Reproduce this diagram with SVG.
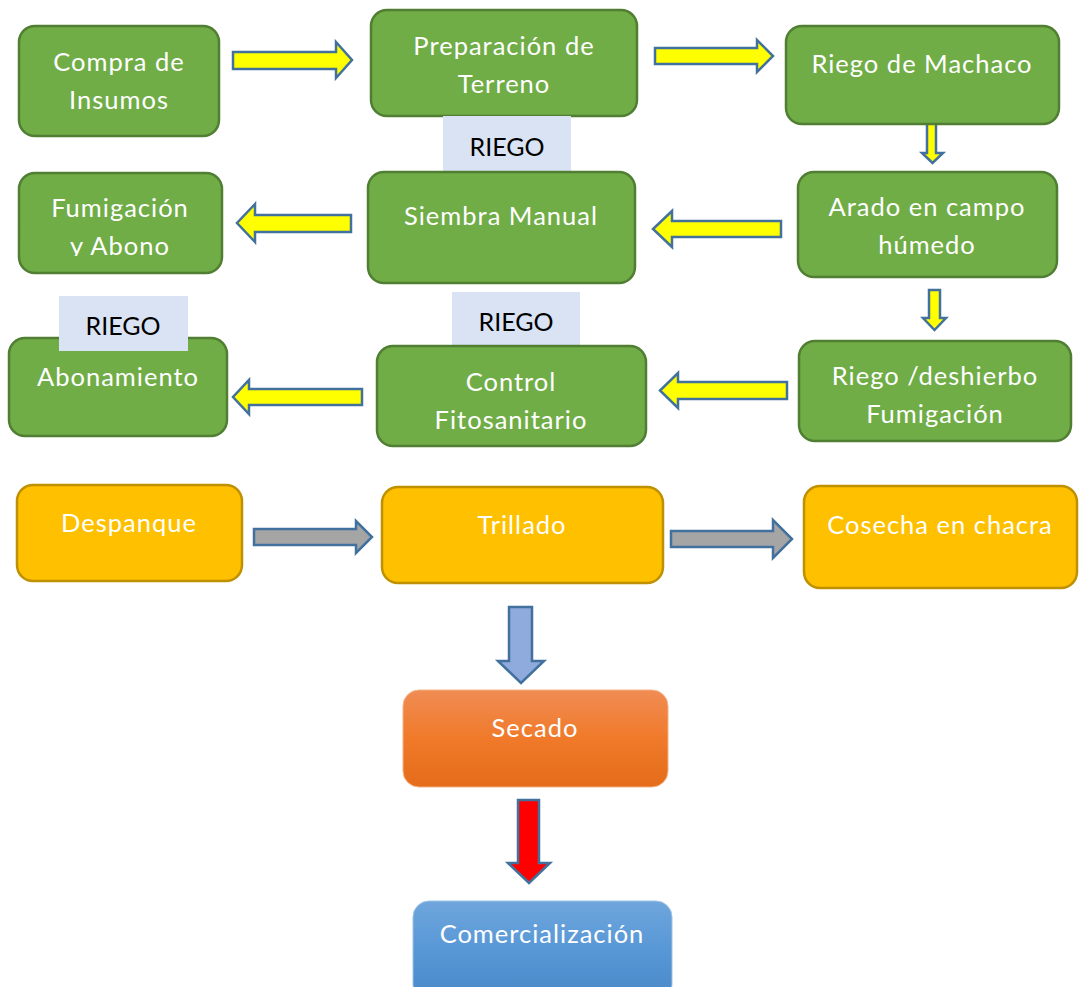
<svg xmlns="http://www.w3.org/2000/svg" width="1079" height="987" viewBox="0 0 1079 987">
<style>
.g{fill:#70AD47;stroke:#507E32;stroke-width:2.5}
.y{fill:#FFC000;stroke:#BF9000;stroke-width:2.5}
.lbl{fill:#DAE3F3}
.t{font-family:Lato,"Open Sans",sans-serif;font-size:25.5px;letter-spacing:1px;fill:#FFFFFF;text-anchor:middle}
.k{font-family:Lato,"Open Sans",sans-serif;font-size:25px;fill:#000000;text-anchor:middle}
.a{stroke:#41719C;stroke-width:2.5;stroke-linejoin:miter}
.ay{fill:#FFFF00}
.ag{fill:#A5A5A5}
</style>
<defs>
<linearGradient id="og" x1="0" y1="0" x2="0" y2="1"><stop offset="0" stop-color="#F08C54"/><stop offset="0.5" stop-color="#F07A2A"/><stop offset="1" stop-color="#E46C1A"/></linearGradient>
<linearGradient id="bg" x1="0" y1="0" x2="0" y2="1"><stop offset="0" stop-color="#6FA6DC"/><stop offset="0.5" stop-color="#5797D6"/><stop offset="1" stop-color="#4A88C8"/></linearGradient>
<clipPath id="fc"><rect x="19" y="173" width="204" height="83"/></clipPath>
</defs>
<g id="connectors">
<path class="a ay" d="M233,52 H336 V42 L352,60 L336,78 V69 H233 Z"/>
<path class="a ay" d="M655,48 H757 V40 L773,56 L757,72 V64 H655 Z"/>
<path class="a ay" d="M927,122 H936 V153 H943 L932.5,163 L922,153 H927 Z"/>
<path class="a ay" d="M781,221 H672 V211 L653,229 L672,247 V237 H781 Z"/>
<path class="a ay" d="M351,215 H255 V204 L237,223 L255,242 V232 H351 Z"/>
<path class="a ay" d="M929,290 H940 V318 H946 L934.5,330 L923,318 H929 Z"/>
<path class="a ay" d="M787,382 H678 V373 L660,390.5 L678,408 V399 H787 Z"/>
<path class="a ay" d="M362,389 H249 V380 L233,397 L249,414 V405 H362 Z"/>
<path class="a ag" d="M254,529 H356 V521 L372,537 L356,553 V545 H254 Z"/>
<path class="a ag" d="M671,531 H773 V520 L792,539 L773,558 V547 H671 Z"/>
<path class="a" fill="#8FAADC" d="M509,607 H532 V661 H544 L521,683 L498,661 H509 Z"/>
<path class="a" fill="#FF0000" d="M518,800 H539 V863 H550 L529,883 L508,863 H518 Z"/>
</g>
<g id="n-compra"><rect class="g" x="19" y="26" width="200" height="110" rx="16"/><text class="t" x="119" y="71">Compra de</text><text class="t" x="119" y="109">Insumos</text></g>
<g id="n-preparacion"><rect class="g" x="371" y="10" width="266" height="106" rx="16"/><text class="t" x="504" y="55">Preparación de</text><text class="t" x="504" y="93">Terreno</text></g>
<g id="n-machaco"><rect class="g" x="786" y="26" width="273" height="98" rx="16"/><text class="t" x="922" y="73">Riego de Machaco</text></g>
<g id="n-riego1"><rect class="lbl" x="443" y="116" width="128" height="55"/><text class="k" x="507" y="156">RIEGO</text></g>
<g id="n-arado"><rect class="g" x="798" y="172" width="259" height="105" rx="16"/><text class="t" x="927" y="216">Arado en campo</text><text class="t" x="927" y="254">húmedo</text></g>
<g id="n-siembra"><rect class="g" x="368" y="172" width="267" height="111" rx="16"/><text class="t" x="501" y="225">Siembra Manual</text></g>
<g id="n-fumigacion"><rect class="g" x="19" y="173" width="203" height="100" rx="16"/><g clip-path="url(#fc)"><text class="t" x="120" y="217">Fumigación</text><text class="t" x="120" y="255">y Abono</text></g></g>
<g id="n-riego2"><rect class="lbl" x="452" y="292" width="128" height="54"/><text class="k" x="516" y="331">RIEGO</text></g>
<g id="n-abonamiento"><rect class="g" x="9" y="338" width="218" height="98" rx="16"/><text class="t" x="118" y="386">Abonamiento</text></g>
<g id="n-riego3"><rect class="lbl" x="59" y="296" width="129" height="55"/><text class="k" x="123" y="335">RIEGO</text></g>
<g id="n-control"><rect class="g" x="377" y="346" width="269" height="100" rx="16"/><text class="t" x="511" y="391">Control</text><text class="t" x="511" y="429">Fitosanitario</text></g>
<g id="n-deshierbo"><rect class="g" x="799" y="341" width="272" height="100" rx="16"/><text class="t" x="935" y="385">Riego /deshierbo</text><text class="t" x="935" y="423">Fumigación</text></g>
<g id="n-despanque"><rect class="y" x="17" y="485" width="225" height="96" rx="16"/><text class="t" x="129" y="532">Despanque</text></g>
<g id="n-trillado"><rect class="y" x="382" y="487" width="281" height="96" rx="16"/><text class="t" x="522" y="534">Trillado</text></g>
<g id="n-cosecha"><rect class="y" x="804" y="486" width="273" height="102" rx="16"/><text class="t" x="940" y="534">Cosecha en chacra</text></g>
<g id="n-secado"><rect fill="url(#og)" stroke="#F4B183" stroke-width="1" x="403" y="690" width="265" height="97" rx="16"/><text class="t" x="535" y="737">Secado</text></g>
<g id="n-comercializacion"><rect fill="url(#bg)" stroke="#9DC3E6" stroke-width="1" x="413" y="901" width="259" height="100" rx="16"/><text class="t" x="542" y="943">Comercialización</text></g>
</svg>
